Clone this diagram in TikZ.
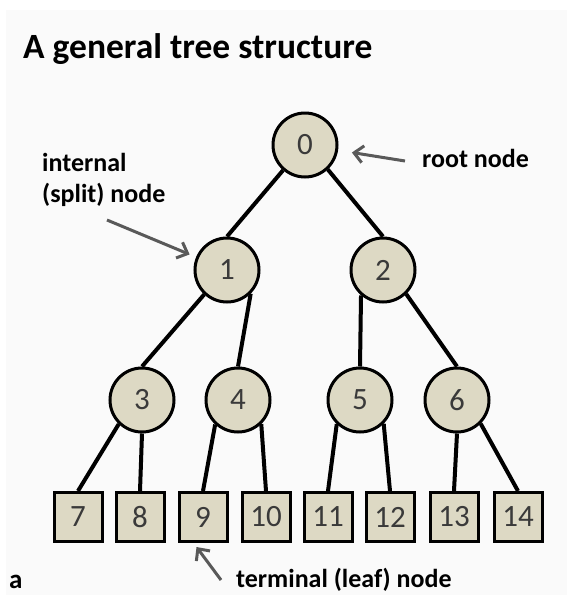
\documentclass[tikz,border=0pt]{standalone}
\usepackage{fontspec}
\setmainfont{Carlito}
\usetikzlibrary{arrows.meta}

\definecolor{nodefill}{HTML}{DDD9C4}
\definecolor{numtext}{HTML}{3A3A3A}
\definecolor{pointergray}{HTML}{595959}
\definecolor{panelbg}{HTML}{FAFAFA}

\tikzset{
  inner/.style={circle, draw=black, line width=3pt, fill=nodefill,
    minimum size=64pt, inner sep=0pt, text=numtext,
    font=\fontsize{31}{31}\selectfont},
  leaf/.style={rectangle, draw=black, line width=3pt, fill=nodefill,
    minimum width=48pt, minimum height=49pt, inner sep=0pt, text=numtext,
    font=\fontsize{31}{31}\selectfont},
  edge/.style={line width=4pt, black},
  pointer/.style={line width=3pt, pointergray,
    -{Straight Barb[length=9pt,width=17pt]}},
  label/.style={anchor=base west, inner sep=0pt,
    font=\fontsize{26}{31}\selectfont\bfseries}
}

\begin{document}
\begin{tikzpicture}[x=1pt,y=-1pt]
  \useasboundingbox (0,0) rectangle (567,595);
  \fill[white] (0,0) rectangle (567,595);
  \fill[panelbg] (6,10) rectangle (567,595);

  % title
  \node[anchor=base west, inner sep=0pt,
        font=\fontsize{35.5}{40}\selectfont\bfseries] (title) at (23,58)
        {A general tree structure};

  % split nodes
  \node[inner] (n0) at (305,145) {0};
  \node[inner] (n1) at (227,270) {1};
  \node[inner] (n2) at (383,270) {2};
  \node[inner] (n3) at (142,400) {3};
  \node[inner] (n4) at (238,400) {4};
  \node[inner] (n5) at (360,400) {5};
  \node[inner] (n6) at (457,400) {6};

  % leaves
  \node[leaf] (l7)  at (78,517)  {7};
  \node[leaf] (l8)  at (140,517) {8};
  \node[leaf] (l9)  at (203,517) {9};
  \node[leaf] (l10) at (266,517) {10};
  \node[leaf] (l11) at (328,517) {11};
  \node[leaf] (l12) at (390,517) {12};
  \node[leaf] (l13) at (454,517) {13};
  \node[leaf] (l14) at (518,517) {14};

  % branches
  \draw[edge] (n0.229) -- (n1.north);
  \draw[edge] (n0.313) -- (n2.north);
  \draw[edge] (n1.227) -- (n3.north);
  \draw[edge] (n1.315) -- (n4.north);
  \draw[edge] (n2.229) -- (n5.north);
  \draw[edge] (n2.314) -- (n6.north);
  \draw[edge] (n3.226) -- (l7.north);
  \draw[edge] (n3.270) -- (l8.north);
  \draw[edge] (n4.227) -- (l9.north);
  \draw[edge] (n4.314) -- (l10.north);
  \draw[edge] (n5.226) -- (l11.north);
  \draw[edge] (n5.315) -- (l12.north);
  \draw[edge] (n6.270) -- (l13.north);
  \draw[edge] (n6.315) -- (l14.north);

  % annotations
  \node[label] (rootlbl) at (422,167) {root node};
  \node[label] (intlbl1) at (42,171) {internal};
  \node[label] (intlbl2) at (42,202) {(split) node};
  \node[label] (leaflbl) at (236,587) {terminal (leaf) node};
  \node[anchor=base west, inner sep=0pt,
        font=\fontsize{27}{30}\selectfont\bfseries] (panel) at (9,588) {a};

  \coordinate (rootTail) at (405,161);
  \coordinate (intTail) at (107,220);
  \coordinate (leafTail) at (221,580);

  \draw[pointer, shorten >=14pt] (rootTail) -- (n0);
  \draw[pointer, shorten >=7pt] (intTail) -- (n1);
  \draw[pointer, shorten >=5pt] (leafTail) -- (l9.-110);
\end{tikzpicture}
\end{document}
